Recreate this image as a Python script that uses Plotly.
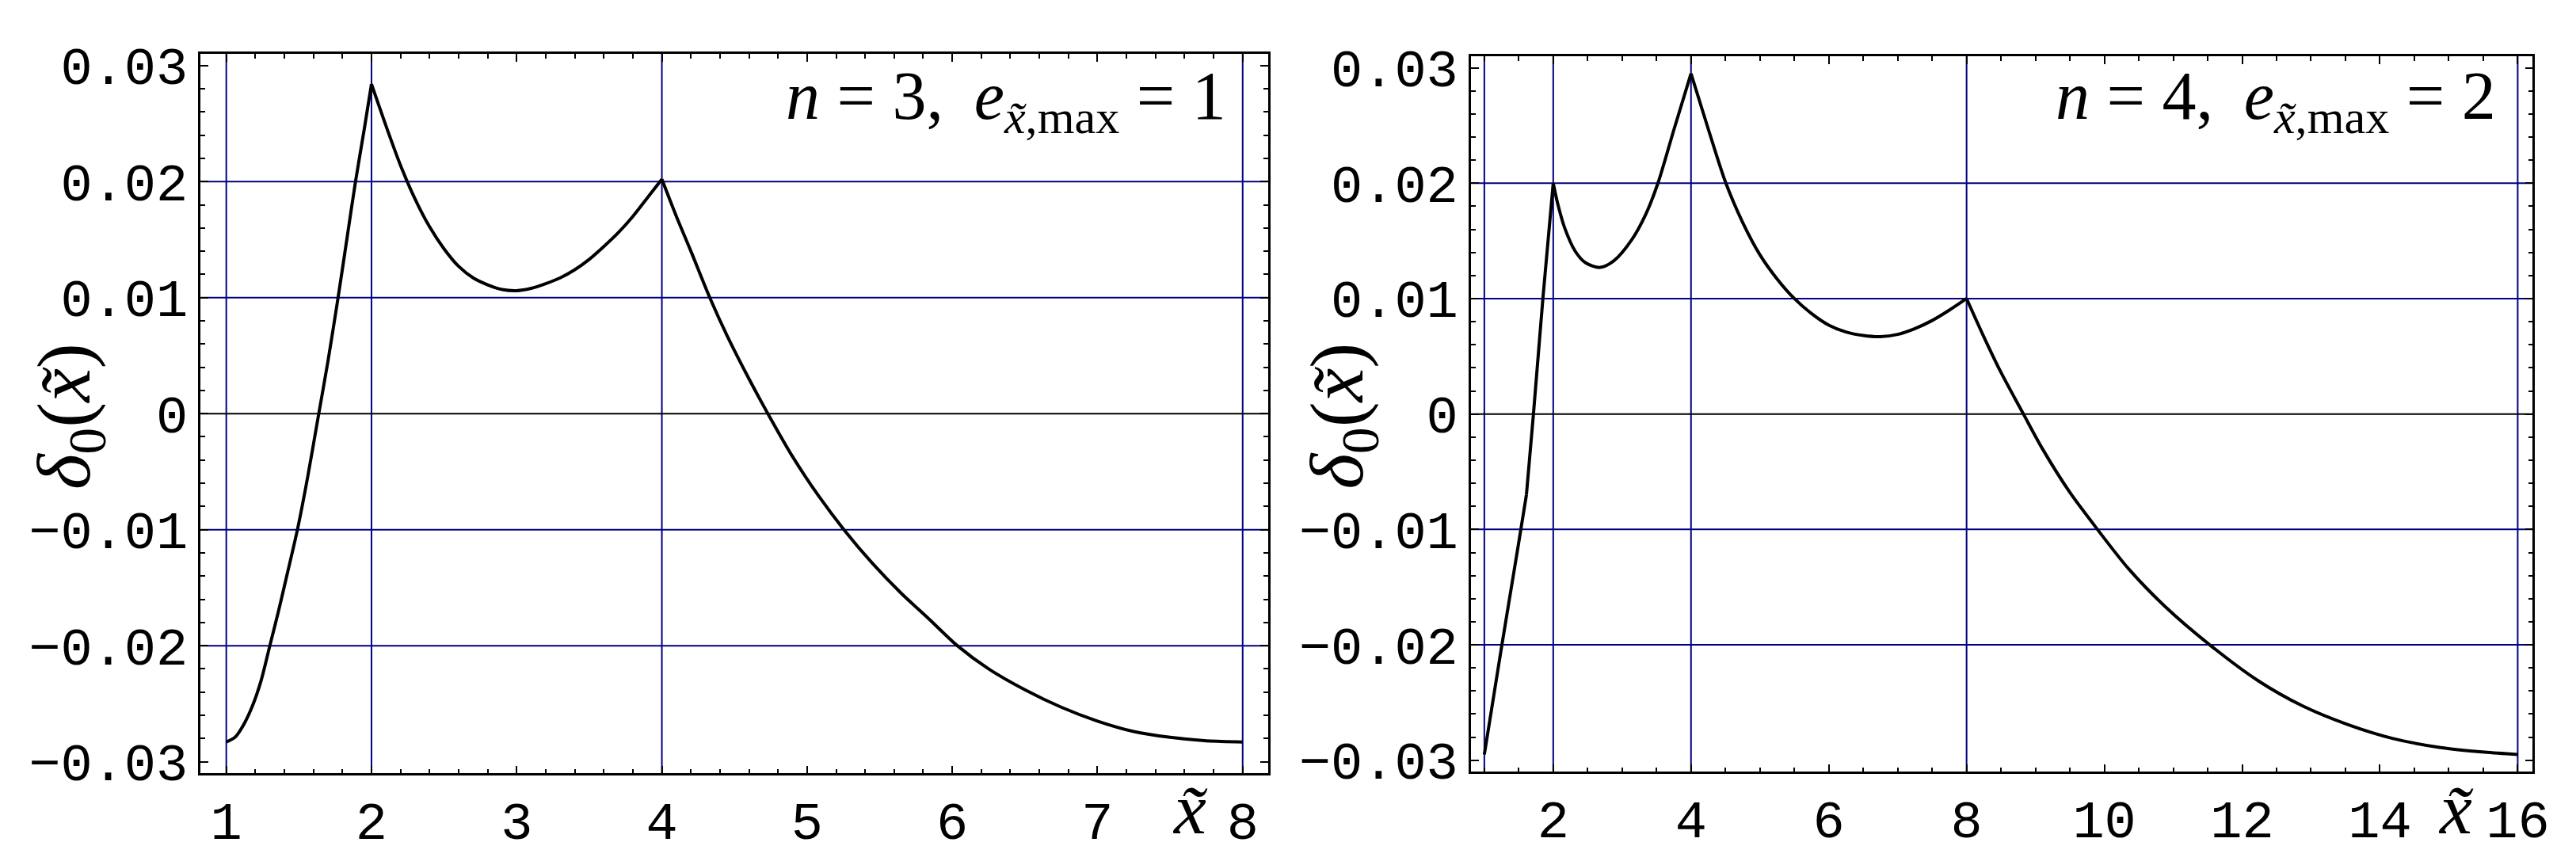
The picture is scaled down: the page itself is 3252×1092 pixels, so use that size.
import plotly.graph_objects as go

# ---------------- data ----------------
x_left = [1.00, 1.06, 1.12, 1.18, 1.24, 1.30, 1.36, 1.42, 1.49, 1.56, 1.63, 1.70,
          1.77, 1.83, 1.89, 1.95, 2.00,
          2.10, 2.20, 2.30, 2.40, 2.50, 2.60, 2.70, 2.80, 2.90, 3.00, 3.10, 3.20,
          3.30, 3.40, 3.50, 3.60, 3.70, 3.80, 3.90, 4.00,
          4.10, 4.20, 4.33, 4.45, 4.60, 4.73, 4.90, 5.08, 5.254, 5.45, 5.65, 5.84,
          6.035, 6.25, 6.50, 6.75, 7.00, 7.25, 7.50, 7.75, 8.00]
y_left = [-0.0283, -0.0279, -0.0268, -0.0252, -0.0230, -0.0200, -0.0170, -0.0138,
          -0.0100, -0.0055, -0.0005, 0.0045, 0.0100, 0.0150, 0.0200, 0.0245, 0.0284,
          0.0248, 0.0214, 0.0185, 0.0161, 0.0142, 0.0127, 0.0117, 0.0111, 0.0107,
          0.0106, 0.0108, 0.0112, 0.0117, 0.0124, 0.0133, 0.0144, 0.0156, 0.0170,
          0.0186, 0.0202,
          0.0170, 0.0140, 0.0100, 0.0067, 0.0030, 0.0000, -0.0037, -0.0071, -0.0100,
          -0.0129, -0.0155, -0.0177, -0.0200, -0.0220, -0.0238, -0.0253, -0.0265,
          -0.0274, -0.0279, -0.0282, -0.0283]
left_kinks = [2.00, 4.00]

x_right = [1.00, 1.255, 1.484, 1.611, 1.713, 1.85, 2.00,
           2.066, 2.168, 2.32, 2.47, 2.68, 2.885, 3.14, 3.343, 3.52, 3.75, 4.00,
           4.25, 4.50, 4.75, 5.00, 5.25, 5.50, 5.75, 6.00, 6.25, 6.50, 6.75, 7.00,
           7.25, 7.50, 7.75, 8.00,
           8.25, 8.50, 8.825, 9.10, 9.50, 9.90, 10.35, 10.885, 11.53, 12.23, 12.88,
           13.53, 14.18, 14.88, 15.52, 16.00]
y_right = [-0.0295, -0.0200, -0.0117, -0.0070, 0.0000, 0.0100, 0.0200,
           0.0182, 0.0161, 0.0141, 0.0131, 0.0127, 0.0133, 0.0151, 0.0173, 0.0200,
           0.0246, 0.0295,
           0.0247, 0.0201, 0.0166, 0.0138, 0.0117, 0.0100, 0.0087, 0.0077, 0.0071,
           0.0068, 0.0067, 0.0069, 0.0074, 0.0081, 0.0090, 0.0100,
           0.0067, 0.0036, 0.0000, -0.0030, -0.0068, -0.0100, -0.0134, -0.0167,
           -0.0200, -0.0231, -0.0253, -0.0269, -0.0281, -0.0289, -0.0293, -0.0295]
right_kinks = [1.611, 2.00, 4.00, 8.00]

left_xticks = [1, 2, 3, 4, 5, 6, 7, 8]
right_xticks = [2, 4, 6, 8, 10, 12, 14, 16]
y_ticks = [-0.03, -0.02, -0.01, 0, 0.01, 0.02, 0.03]
y_ticktext = ["\u22120.03", "\u22120.02", "\u22120.01", "0", "0.01", "0.02", "0.03"]
left_vgrid = [1, 2, 4, 8]
right_vgrid = [1, 2, 4, 8, 16]
h_grid = [-0.02, -0.01, 0.01, 0.02]
zero_grid = [0]

label_left = ("<i>n</i> = 3,\u2009 <i>e</i><sub><i>x\u0303</i>,max</sub> = 1")
label_right = ("<i>n</i> = 4,\u2009 <i>e</i><sub><i>x\u0303</i>,max</sub> = 2")
y_title = "<i>\u03b4</i><sub>0</sub>(<i>x\u0303</i>)"
x_title = "<i>x\u0303</i>"

# ---------------- figure ----------------
W, H = 3252, 1092
NAVY = "#000080"
TICKFONT = dict(family="Liberation Mono", size=67, color="black")
SERIF = "Liberation Serif"


def px_x(p):
    return p / W


def px_y(p):
    return 1 - p / H


def split_at(xs, ys, kinks):
    """Split a curve into pieces that share their end points at the kinks."""
    pieces, cx, cy = [], [], []
    for xv, yv in zip(xs, ys):
        cx.append(xv)
        cy.append(yv)
        if xv in kinks:
            pieces.append((cx, cy))
            cx, cy = [xv], [yv]
    if len(cx) > 1:
        pieces.append((cx, cy))
    return pieces


def base_axis():
    return dict(showline=True, linecolor="black", linewidth=2.5, mirror="ticks",
                ticks="inside", ticklen=10, tickwidth=2, tickcolor="black",
                showgrid=False, zeroline=False, tickfont=TICKFONT,
                fixedrange=True)


fig = go.Figure()
for xs, ys, kinks, xa, ya in ((x_left, y_left, left_kinks, "x", "y"),
                              (x_right, y_right, right_kinks, "x2", "y2")):
    for px_, py_ in split_at(xs, ys, kinks):
        fig.add_trace(go.Scatter(x=px_, y=py_, mode="lines",
                                 line=dict(color="black", width=4,
                                           shape="spline", smoothing=0.8),
                                 xaxis=xa, yaxis=ya, showlegend=False,
                                 hoverinfo="skip"))

xa1 = base_axis()
xa1.update(domain=[px_x(247), px_x(1603)], range=[0.824, 8.174], anchor="y",
           tickmode="array", tickvals=left_xticks,
           ticktext=[str(v) for v in left_xticks],
           minor=dict(dtick=0.2, tick0=0, ticks="inside", ticklen=6,
                      tickwidth=1.5, tickcolor="black", showgrid=False))
ya1 = base_axis()
ya1.update(domain=[px_y(993), px_y(44)], range=[-0.031, 0.031], anchor="x",
           tickmode="array", tickvals=y_ticks, ticktext=y_ticktext,
           minor=dict(dtick=0.002, tick0=0, ticks="inside", ticklen=6,
                      tickwidth=1.5, tickcolor="black", showgrid=False))
xa2 = base_axis()
xa2.update(domain=[px_x(1861), px_x(3210)], range=[0.806, 16.217], anchor="y2",
           tickmode="array", tickvals=right_xticks,
           ticktext=[str(v) for v in right_xticks],
           minor=dict(dtick=0.5, tick0=0, ticks="inside", ticklen=6,
                      tickwidth=1.5, tickcolor="black", showgrid=False))
ya2 = base_axis()
ya2.update(domain=[px_y(991), px_y(47)], range=[-0.031, 0.031], anchor="x2",
           tickmode="array", tickvals=y_ticks, ticktext=y_ticktext,
           minor=dict(dtick=0.002, tick0=0, ticks="inside", ticklen=6,
                      tickwidth=1.5, tickcolor="black", showgrid=False))

shapes = []
for xa, ya, vg in (("x", "y", left_vgrid), ("x2", "y2", right_vgrid)):
    for v in vg:
        shapes.append(dict(type="line", xref=xa, yref=ya + " domain",
                           x0=v, x1=v, y0=0, y1=1, layer="below",
                           line=dict(color=NAVY, width=2)))
    for h in h_grid:
        shapes.append(dict(type="line", xref=xa + " domain", yref=ya,
                           x0=0, x1=1, y0=h, y1=h, layer="below",
                           line=dict(color=NAVY, width=2)))
    for h in zero_grid:
        shapes.append(dict(type="line", xref=xa + " domain", yref=ya,
                           x0=0, x1=1, y0=h, y1=h, layer="below",
                           line=dict(color="black", width=2)))

LABEL_FONT = dict(family=SERIF, size=86, color="black")
TITLE_FONT = dict(family=SERIF, size=96, color="black")
annotations = [
    dict(text=label_left, xref="paper", yref="paper", x=px_x(1552), y=px_y(106),
         xanchor="right", yanchor="middle", showarrow=False, font=LABEL_FONT),
    dict(text=label_right, xref="paper", yref="paper", x=px_x(3165), y=px_y(106),
         xanchor="right", yanchor="middle", showarrow=False, font=LABEL_FONT),
    dict(text=y_title, xref="paper", yref="paper", x=px_x(80), y=px_y(522),
         xanchor="center", yanchor="middle", showarrow=False, textangle=-90,
         font=TITLE_FONT),
    dict(text=y_title, xref="paper", yref="paper", x=px_x(1697), y=px_y(522),
         xanchor="center", yanchor="middle", showarrow=False, textangle=-90,
         font=TITLE_FONT),
    dict(text=x_title, xref="paper", yref="paper", x=px_x(1504), y=px_y(1040),
         xanchor="center", yanchor="middle", showarrow=False,
         font=dict(family=SERIF, size=92, color="black")),
    dict(text=x_title, xref="paper", yref="paper", x=px_x(3113), y=px_y(1040),
         xanchor="center", yanchor="middle", showarrow=False,
         font=dict(family=SERIF, size=92, color="black")),
]

fig.update_layout(width=W, height=H, margin=dict(l=0, r=0, t=0, b=0),
                  paper_bgcolor="white", plot_bgcolor="white",
                  xaxis=xa1, yaxis=ya1, xaxis2=xa2, yaxis2=ya2,
                  shapes=shapes, annotations=annotations, showlegend=False)

fig.write_html("out.html")
